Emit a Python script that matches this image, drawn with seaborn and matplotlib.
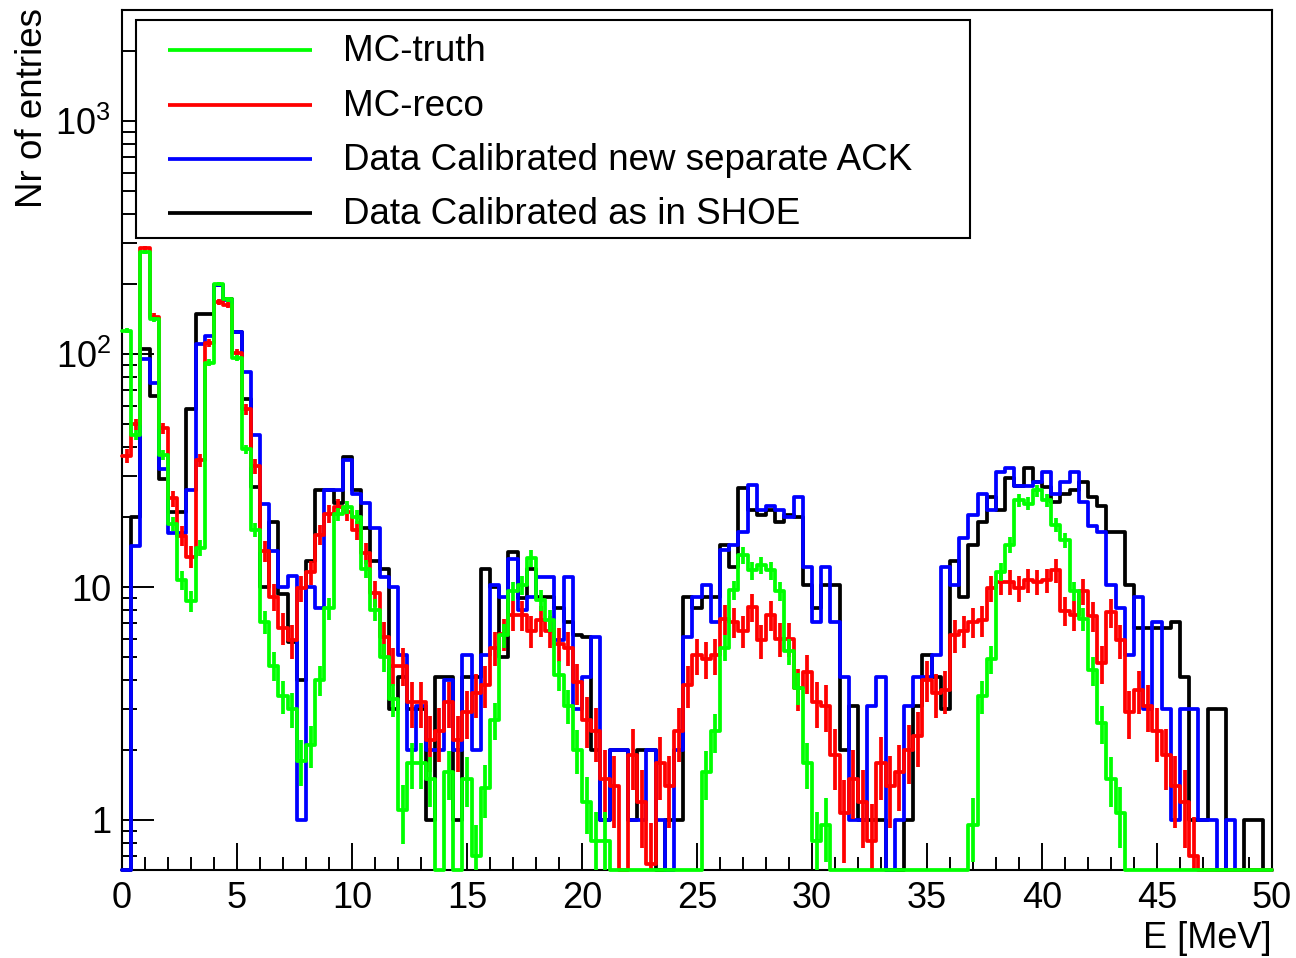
import numpy as np
import pandas as pd
import matplotlib
matplotlib.use('Agg')
import matplotlib.pyplot as plt
import seaborn as sns
from matplotlib.patches import Rectangle
from matplotlib.ticker import (FixedLocator, FixedFormatter, LogLocator,
                               MultipleLocator, NullFormatter)

# 125 bins of 0.4 MeV between 0 and 50 MeV
edges = np.linspace(0, 50, 126)
centers = 0.5 * (edges[:-1] + edges[1:])

# entries per bin (0 = empty bin)
mc_truth = [126, 45, 273, 141, 37, 18.7, 10.7, 8.7, 14.7, 92,
            200, 172, 96, 39, 17.6, 7.1, 4.6, 3.4, 3.0, 1.8,
            2.1, 4.0, 8.1, 20.5, 22, 20, 12, 8, 5, 3.3,
            1.1, 1.75, 1.75, 1.5, 0, 1.6, 0, 1.5, 0.7, 1.37,
            2.7, 6.2, 9.6, 10.2, 13.3, 8.8, 7.2, 4.2, 3.1, 2.0,
            1.2, 0.81, 0.81, 0, 0, 0, 0, 0, 0, 0,
            0, 0, 0, 1.6, 2.4, 5.5, 9.7, 13.7, 11.8, 12.4,
            11.8, 9.6, 5.3, 3.7, 1.75, 0.81, 0.95, 0, 0, 0,
            0, 0, 0, 0, 0, 0, 0, 0, 0, 0,
            0, 0, 0.95, 3.4, 4.9, 11.6, 15.2, 23.6, 22.8, 26,
            23.6, 18.5, 15.9, 9.6, 7.3, 4.4, 2.6, 1.5, 1.07, 0,
            0, 0, 0, 0, 0, 0, 0, 0, 0, 0,
            0, 0, 0, 0, 0]

mc_reco = [36.6, 50, 285, 145, 48, 24, 16.6, 13.5, 35, 112,
           168, 163, 101, 58, 33, 14.3, 9.1, 6.7, 5.9, 9.9,
           11.6, 16.8, 20.6, 22, 21, 17.6, 14, 9.4, 6.1, 4.6,
           4.6, 3.2, 3.2, 2.2, 2.4, 3.2, 2.2, 2.9, 3.5, 3.8,
           5.5, 6.3, 7.6, 7.6, 6.5, 7.2, 6.5, 5.7, 5.5, 3.9,
           2.7, 2.4, 1.5, 1.4, 0, 1.9, 1.2, 0.65, 1.75, 1.4,
           2.4, 3.8, 5.1, 4.9, 5.1, 7.3, 7.1, 6.5, 8.2, 5.9,
           7.6, 6.0, 6.0, 3.7, 4.3, 3.2, 3.1, 1.9, 1.07, 1.5,
           1.2, 0.81, 1.75, 1.4, 1.6, 2.0, 2.3, 4.0, 3.5, 3.6,
           6.2, 6.5, 7.1, 7.2, 9.9, 10.5, 10.5, 9.9, 10.7, 10.5,
           10.7, 11.8, 7.9, 7.6, 9.6, 7.5, 4.7, 7.8, 5.9, 2.9,
           3.6, 3.1, 2.4, 1.9, 1.4, 1.2, 0.7, 0, 0, 0,
           0, 0, 0, 0, 0]

data_ack = [0, 15, 95, 75, 32, 17, 17, 26, 110, 120,
            198, 170, 124, 84, 45, 22.7, 14.3, 10, 11.2, 1.0,
            10, 8.1, 26, 26, 35, 25, 23, 18, 11, 10,
            5.1, 2.0, 3.1, 2.0, 2.0, 4.0, 2.0, 5.1, 2.0, 5.1,
            10.2, 9.1, 13.2, 8, 9.1, 11, 11, 5.9, 11, 3.0,
            4.1, 6.1, 1.0, 2.0, 2.0, 1.0, 1.0, 2.0, 1.0, 0,
            2.0, 6.1, 9.1, 10.2, 7.1, 14.4, 15.2, 17.3, 27.4, 21.4,
            22.3, 21.4, 20, 24.4, 12.2, 7.1, 12.2, 7.1, 4.1, 1.0,
            1.0, 3.1, 4.1, 0, 1.0, 3.1, 4.1, 4.1, 5.1, 12.2,
            10.2, 16.2, 20.4, 25.2, 21.4, 31.3, 32.3, 27.2, 27.2, 28.3,
            31.3, 25.2, 28.3, 31.3, 23.2, 18.2, 17.3, 10.2, 8.1, 5.1,
            9.1, 3.0, 7.1, 3.0, 1.0, 3.0, 3.0, 1.0, 1.0, 0,
            1.0, 0, 0, 0, 0]

data_shoe = [0, 20, 105, 66, 29, 21, 21, 58, 148, 148,
             198, 172, 124, 64, 27, 10, 19, 9.3, 5.8, 4.0,
             13, 26, 26, 23, 36, 26, 18, 13, 12, 3.0,
             4.1, 3.0, 3.0, 1.0, 4.1, 4.1, 1.0, 4.1, 4.1, 12,
             10, 5.0, 14.2, 9, 12, 9.1, 9.1, 8.1, 7.1, 6.2,
             6.1, 2.0, 1.0, 2.0, 2.0, 1.0, 2.0, 2.0, 0, 1.0,
             1.0, 9.1, 8.1, 9.1, 9.1, 15.2, 12.2, 26.5, 21.4, 20.4,
             21.4, 19, 20.4, 20, 10.2, 8.1, 10.2, 10.2, 2.0, 3.1,
             1.0, 1.0, 1.0, 0, 0, 1.0, 3.1, 5.1, 4.1, 3.0,
             13, 9.1, 15.2, 19, 24.4, 21.4, 29.3, 27.2, 32.3, 28.3,
             27, 23.2, 25.2, 26.2, 28.3, 24.4, 22.3, 17.2, 17.2, 10.2,
             6.7, 6.7, 6.7, 6.7, 7.1, 4.1, 1.0, 1.0, 3.0, 3.0,
             0, 0, 1.0, 1.0, 0]

labels = ['MC-truth', 'MC-reco', 'Data Calibrated new separate ACK',
          'Data Calibrated as in SHOE']
colors = ['#00ff00', '#ff0000', '#0000ff', '#000000']

# relative size of the MC error bars (err = k * sqrt(N))
err_k_truth = 0.3
err_k_reco = 0.4

y_min, y_max = 0.61, 3000

sns.set_style('ticks')
plt.rcParams['font.family'] = ['Liberation Sans', 'DejaVu Sans']
plt.rcParams['mathtext.fontset'] = 'custom'
plt.rcParams['mathtext.rm'] = 'Liberation Sans'
for key in ['text.color', 'axes.labelcolor', 'xtick.color', 'ytick.color', 'axes.edgecolor']:
    plt.rcParams[key] = 'black'

fig = plt.figure(figsize=(12.96, 9.58), dpi=100)
ax = fig.add_axes([122 / 1296, 88 / 958, 1150 / 1296, 860 / 958])

lw = 2.7
# draw order: black, blue, red, green (green on top)
series = [(data_shoe, colors[3], None),
          (data_ack, colors[2], None),
          (mc_reco, colors[1], err_k_reco),
          (mc_truth, colors[0], err_k_truth)]

for i, (vals, col, k) in enumerate(series):
    v = np.array(vals, dtype=float)
    # empty bins sit on the frame bottom, like ROOT draws them
    df = pd.DataFrame({'E': centers, 'N': np.where(v > 0, v, y_min)})
    sns.histplot(data=df, x='E', weights='N', bins=list(edges), element='step',
                 fill=False, color=col, linewidth=lw, ax=ax)
    ax.lines[-1].set_clip_on(False)
    ax.lines[-1].set_zorder(3 + i * 0.1)
    if k is not None:
        m = v > 0
        err = k * np.sqrt(v[m])
        ax.vlines(centers[m], v[m] - err, v[m] + err, colors=col, linewidth=lw,
                  zorder=3 + i * 0.1)

ax.set_yscale('log')

# legend box drawn by hand (ROOT style)
ax.add_patch(Rectangle((0.0122, 0.7349), 0.7252, 0.2535, transform=ax.transAxes,
                       facecolor='white', edgecolor='black', linewidth=1.5, zorder=10))
rows = [0.9533, 0.8894, 0.8266, 0.7638]
for lab, col, yr in zip(labels, colors, rows):
    ax.plot([0.04, 0.1652], [yr, yr], transform=ax.transAxes, color=col,
            linewidth=lw, zorder=11, solid_capstyle='butt')
    ax.text(0.1922, yr - 0.0015, lab, transform=ax.transAxes, fontsize=26.5,
            ha='left', va='center', zorder=11)

ax.set_xlim(0, 50)
ax.set_ylim(y_min, y_max)
ax.set_xlabel('')
ax.set_ylabel('')

ax.xaxis.set_major_locator(MultipleLocator(5))
ax.xaxis.set_minor_locator(MultipleLocator(1))
ax.yaxis.set_major_locator(FixedLocator([1, 10, 100, 1000]))
ax.yaxis.set_major_formatter(FixedFormatter(['1', '10', r'$\mathregular{10^{2}}$',
                                             r'$\mathregular{10^{3}}$']))
ax.yaxis.set_minor_locator(LogLocator(base=10, subs=np.arange(2, 10), numticks=20))
ax.yaxis.set_minor_formatter(NullFormatter())

ax.tick_params(axis='both', which='both', direction='in', top=False, right=False,
               labelsize=26, width=1.4, pad=8, color='black')
ax.tick_params(axis='x', which='major', length=19.5)
ax.tick_params(axis='x', which='minor', length=9.5)
ax.tick_params(axis='y', which='major', length=23)
ax.tick_params(axis='y', which='minor', length=11)

for s in ax.spines.values():
    s.set_color('black')
    s.set_linewidth(1.5)

fig.text(33 / 1296, 1 - 8 / 958, 'Nr of entries', rotation=90, fontsize=26.5,
         ha='center', va='top')
fig.text(1272 / 1296, 1 - 938 / 958, 'E [MeV]', fontsize=26, ha='right', va='center')

fig.savefig('out.png', dpi=100)
